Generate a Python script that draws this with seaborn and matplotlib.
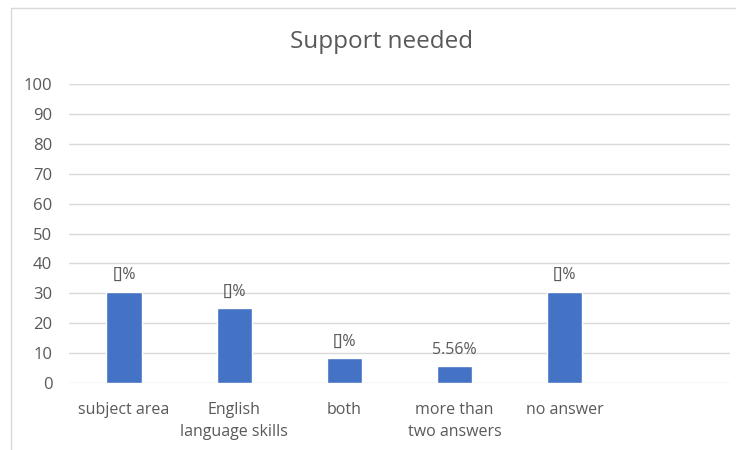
import matplotlib
matplotlib.use("Agg")
import matplotlib.pyplot as plt
from matplotlib.patches import Rectangle
import seaborn as sns
import pandas as pd

categories = ["subject area", "English\nlanguage skills", "both",
              "more than\ntwo answers", "no answer"]
values = [30.56, 25.0, 8.33, 5.56, 30.56]
bar_labels = ["[]%", "[]%", "[]%", "5.56%", "[]%"]
y_ticks = [0, 10, 20, 30, 40, 50, 60, 70, 80, 90, 100]

sns.set_theme(style="white")
plt.rcParams["font.family"] = ["Open Sans", "DejaVu Sans"]

text_color = "#595959"
grid_color = "#d9d9d9"
bar_color = "#4472C4"

fig = plt.figure(figsize=(7.36, 4.5), dpi=100)
fig.patch.set_facecolor("white")

# light chart-area frame
fig.patches.append(Rectangle((11 / 736, -0.05), 1.0, 1 - 8 / 450 + 0.05,
                             transform=fig.transFigure, fill=False,
                             edgecolor=grid_color, linewidth=1.0))

ax = fig.add_axes([69 / 736, 1 - 383 / 450, (730 - 69) / 736, (383 - 84) / 450])

df = pd.DataFrame({"category": categories, "value": values})
sns.barplot(data=df, x="category", y="value", color=bar_color,
            saturation=1, width=0.32, ax=ax, zorder=3)

ax.bar_label(ax.containers[0], labels=bar_labels, padding=6,
             fontsize=11.5, color=text_color)

ax.set_xlim(-0.5, 5.5)
ax.set_ylim(0, 100)
ax.set_yticks(y_ticks)
ax.set_yticklabels([str(t) for t in y_ticks])
ax.yaxis.grid(True, color=grid_color, linewidth=1.0, zorder=0)
ax.set_axisbelow(True)
for s in ax.spines.values():
    s.set_visible(False)
ax.tick_params(axis="y", length=0, pad=12, labelsize=12, labelcolor=text_color)
ax.tick_params(axis="x", length=0, pad=14, labelsize=11.5, labelcolor=text_color)
for lbl in ax.get_xticklabels():
    lbl.set_linespacing(1.45)
ax.set_xlabel("")
ax.set_ylabel("")

fig.text(382 / 736, 1 - 42 / 450, "Support needed", ha="center", va="center",
         fontsize=17.5, color=text_color)

fig.savefig("out.png", dpi=100, facecolor="white")
